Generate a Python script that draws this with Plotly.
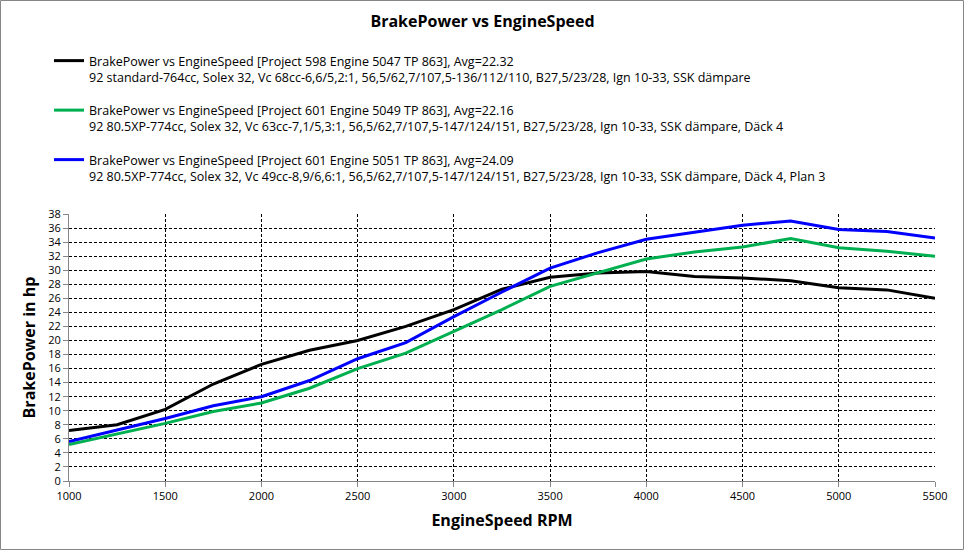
import plotly.graph_objects as go

rpm = [1000, 1250, 1500, 1750, 2000, 2250, 2500, 2750, 3000, 3250, 3500, 3750,
       4000, 4250, 4500, 4750, 5000, 5250, 5500]

power_5047 = [7.2, 8.0, 10.2, 13.8, 16.6, 18.6, 20.0, 22.0, 24.4, 27.3, 29.0, 29.6,
              29.8, 29.1, 28.9, 28.5, 27.5, 27.2, 26.0]
power_5049 = [5.2, 6.7, 8.2, 9.9, 11.1, 13.2, 16.0, 18.2, 21.3, 24.4, 27.7, 29.7,
              31.6, 32.6, 33.3, 34.5, 33.2, 32.7, 32.0]
power_5051 = [5.6, 7.2, 8.9, 10.7, 12.0, 14.3, 17.4, 19.7, 23.4, 26.9, 30.3, 32.5,
              34.4, 35.4, 36.4, 37.0, 35.8, 35.5, 34.6]

names = [
    "BrakePower vs EngineSpeed [Project 598 Engine 5047 TP 863], Avg=22.32<br>"
    "92 standard-764cc, Solex 32, Vc 68cc-6,6/5,2:1, 56,5/62,7/107,5-136/112/110, B27,5/23/28, Ign 10-33, SSK dämpare",
    "BrakePower vs EngineSpeed [Project 601 Engine 5049 TP 863], Avg=22.16<br>"
    "92 80.5XP-774cc, Solex 32, Vc 63cc-7,1/5,3:1, 56,5/62,7/107,5-147/124/151, B27,5/23/28, Ign 10-33, SSK dämpare, Däck 4",
    "BrakePower vs EngineSpeed [Project 601 Engine 5051 TP 863], Avg=24.09<br>"
    "92 80.5XP-774cc, Solex 32, Vc 49cc-8,9/6,6:1, 56,5/62,7/107,5-147/124/151, B27,5/23/28, Ign 10-33, SSK dämpare, Däck 4, Plan 3",
]
colors = ["#000000", "#00B050", "#0000FF"]
series = [power_5047, power_5049, power_5051]

FONT = "Open Sans"

fig = go.Figure()
for i, (ys, nm, c) in enumerate(zip(series, names, colors)):
    fig.add_trace(go.Scatter(x=rpm, y=ys, mode="lines", name=nm,
                             legendgroup=f"g{i}",
                             line=dict(color=c, width=3)))

ML, MR, MT, MB = 69, 30, 214, 70
W, H = 965, 551
pw, ph = W - ML - MR, H - MT - MB

fig.update_layout(
    width=W, height=H,
    margin=dict(l=ML, r=MR, t=MT, b=MB),
    paper_bgcolor="white", plot_bgcolor="white",
    font=dict(family=FONT, color="black", size=12),
    title=dict(text="<b>BrakePower vs EngineSpeed</b>", x=0.5, xref="container",
               y=1 - 21 / H, yref="container", yanchor="middle",
               font=dict(size=16, family=FONT)),
    showlegend=True,
    legend=dict(x=(49 - ML) / pw, xanchor="left", y=1 + (MT - 46) / ph, yanchor="top",
                font=dict(size=12.5, family=FONT), traceorder="grouped",
                tracegroupgap=14, valign="top", bgcolor="rgba(0,0,0,0)",
                itemwidth=30),
    xaxis=dict(range=[1000, 5500], tickvals=list(range(1000, 5501, 500)),
               showgrid=True, gridcolor="black", griddash="3px,2px", gridwidth=1,
               showline=True, linecolor="#868686", linewidth=1,
               ticks="outside", ticklen=5, tickcolor="#868686",
               tickfont=dict(size=11), zeroline=False,
               title=dict(text="<b>EngineSpeed RPM</b>", font=dict(size=16), standoff=12)),
    yaxis=dict(range=[0, 38], dtick=2, tick0=0,
               showgrid=True, gridcolor="black", griddash="3px,2px", gridwidth=1,
               showline=True, linecolor="#868686", linewidth=1,
               ticks="outside", ticklen=5, tickcolor="#868686",
               tickfont=dict(size=11), zeroline=False,
               title=dict(text="<b>BrakePower in hp</b>", font=dict(size=16), standoff=8)),
)

# outer chart border
fig.add_shape(type="rect", xref="paper", yref="paper",
              x0=(0.5 - ML) / pw, x1=1 + (MR - 1.5) / pw,
              y0=-(MB - 1.5) / ph, y1=1 + (MT - 0.5) / ph,
              line=dict(color="#868686", width=1), layer="below")

fig.write_html("out.html")
